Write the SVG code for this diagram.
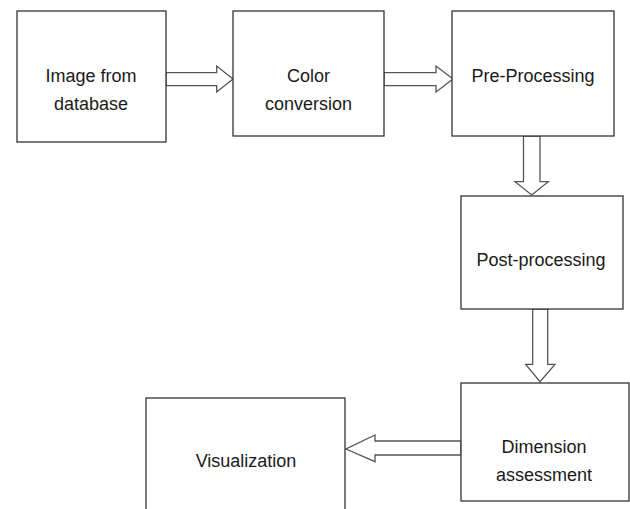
<svg xmlns="http://www.w3.org/2000/svg" width="630" height="509" viewBox="0 0 630 509">
<style>
.box{fill:#fff;stroke:#333;stroke-width:1.3}
.arr{fill:#fff;stroke:#555;stroke-width:1.3;stroke-linejoin:miter}
text{font-family:"Liberation Sans",Arial,sans-serif;font-size:18px;fill:#1a1a1a;text-anchor:middle}
</style>
<rect width="630" height="509" fill="#fff"/>
<g id="connectors">
<polygon class="arr" points="166,72.7 216.7,72.7 216.7,66 233,79 216.7,92 216.7,85.7 166,85.7"/>
<polygon class="arr" points="384,72.7 436,72.7 436,66 453,79 436,92 436,85.7 384,85.7"/>
<polygon class="arr" points="523.5,136 540,136 540,181.7 548.3,181.7 531.7,195 515,181.7 523.5,181.7"/>
<polygon class="arr" points="532.7,309 547.7,309 547.7,364.3 555,364.3 540,381.7 525.7,364.3 532.7,364.3"/>
<polygon class="arr" points="461,441 375,441 375,435 346,449 375,461.7 375,455 461,455"/>
</g>
<g id="image-from-database">
<rect class="box" x="17" y="11" width="149" height="131"/>
<text x="91" y="82">Image from</text>
<text x="91" y="110">database</text>
</g>
<g id="color-conversion">
<rect class="box" x="233" y="11" width="151" height="125"/>
<text x="308.5" y="82">Color</text>
<text x="308.5" y="110">conversion</text>
</g>
<g id="pre-processing">
<rect class="box" x="452" y="11" width="162" height="125"/>
<text x="533" y="82">Pre-Processing</text>
</g>
<g id="post-processing">
<rect class="box" x="461" y="196" width="162" height="113"/>
<text x="541" y="266">Post-processing</text>
</g>
<g id="dimension-assessment">
<rect class="box" x="461" y="383" width="168" height="118"/>
<text x="544" y="453">Dimension</text>
<text x="544" y="481">assessment</text>
</g>
<g id="visualization">
<rect class="box" x="146" y="398" width="199" height="130"/>
<text x="246" y="467">Visualization</text>
</g>
</svg>
